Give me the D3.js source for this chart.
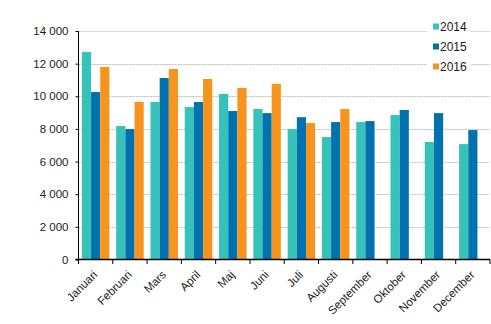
<!DOCTYPE html>
<html>
<head>
<meta charset="utf-8">
<script src="https://cdn.jsdelivr.net/npm/d3@7/dist/d3.min.js"></script>
<style>
html,body{margin:0;padding:0;background:#fff;}
svg{display:block;}
text{font-family:"Liberation Sans", Arial, sans-serif;fill:#1a1a1a;}
</style>
</head>
<body>
<svg id="chart" width="491" height="324"></svg>
<script>
const months = ["Januari","Februari","Mars","April","Maj","Juni","Juli","Augusti","September","Oktober","November","December"];
const seriesNames = ["2014","2015","2016"];
const values2014 = [12720,8180,9650,9340,10140,9220,7990,7500,8420,8850,7200,7070];
const values2015 = [10260,7990,11120,9650,9100,8970,8720,8420,8480,9160,8970,7930];
const values2016 = [11800,9650,11670,11060,10510,10760,8360,9220,null,null,null,null];
const yTicks = [0,2000,4000,6000,8000,10000,12000,14000];
const colors = ["#35C2B8","#0072B0","#F7941D"];

const seriesValues = [values2014, values2015, values2016];
const svg = d3.select("#chart");
const mLeft = 78.5, mRight = 490, mTop = 31, mBottom = 259.5;

const x0 = d3.scaleBand().domain(months).range([mLeft, mRight]).padding(0);
const bw = x0.bandwidth();
const x1 = d3.scaleBand().domain(seriesNames).range([3.4, bw - 3.4]).padding(0);
const y = d3.scaleLinear().domain([0, 14000]).range([mBottom, mTop]);
const fmt = v => d3.format(",")(v).replace(/,/g, "\u00a0");

// gridlines
svg.append("g").selectAll("line").data(yTicks.filter(d => d > 0)).join("line")
  .attr("x1", mLeft).attr("x2", mRight)
  .attr("y1", d => Math.round(y(d)) + 0.5).attr("y2", d => Math.round(y(d)) + 0.5)
  .attr("stroke", d => d === 14000 ? "#d9d9d9" : "#bdbdbd")
  .attr("stroke-width", 1)
  .attr("stroke-dasharray", d => d === 14000 ? null : "2,1");

// bars
const groups = svg.append("g").selectAll("g").data(months).join("g")
  .attr("transform", d => `translate(${x0(d)},0)`);
groups.selectAll("rect")
  .data((m, i) => seriesNames.map((s, k) => ({s, k, v: seriesValues[k][i]})).filter(d => d.v != null))
  .join("rect")
  .attr("x", d => x1(d.s))
  .attr("width", x1.bandwidth())
  .attr("y", d => y(d.v))
  .attr("height", d => y(0) - y(d.v))
  .attr("fill", d => colors[d.k]);

// y axis
const yAxis = svg.append("g").attr("transform", `translate(${mLeft},0)`)
  .call(d3.axisLeft(y).tickValues(yTicks).tickSize(3).tickPadding(7).tickFormat(fmt));
yAxis.select(".domain").attr("stroke", "#000").attr("d", `M0,${mTop}V${mBottom}`);
yAxis.selectAll(".tick line").attr("stroke", "#000");
yAxis.selectAll("text").style("font-size", "11.5px").attr("fill", "#1a1a1a")
  .style("font-family", "'Liberation Sans', Arial, sans-serif");

// x axis
const xg = svg.append("g");
xg.append("line").attr("x1", mLeft - 3).attr("x2", mRight).attr("y1", mBottom).attr("y2", mBottom)
  .attr("stroke", "#000").attr("stroke-width", 1.3);
const bounds = months.map(m => x0(m)).concat([mRight]);
xg.selectAll(".xt").data(bounds).join("line").attr("class", "xt")
  .attr("x1", d => d).attr("x2", d => d).attr("y1", mBottom).attr("y2", mBottom + 4.5)
  .attr("stroke", "#000");
xg.selectAll(".xl").data(months).join("text").attr("class", "xl")
  .attr("transform", d => `translate(${x0(d) + bw / 2 + 2.5},${mBottom + 16}) rotate(-45)`)
  .attr("text-anchor", "end")
  .style("font-size", "11.5px")
  .text(d => d);

// legend
const lg = svg.append("g");
lg.append("rect").attr("x", 427).attr("y", 16).attr("width", 44).attr("height", 60).attr("fill", "#fff");
const li = lg.selectAll(".li").data(seriesNames).join("g").attr("class", "li")
  .attr("transform", (d, i) => `translate(433,${26.5 + i * 20})`);
li.append("rect").attr("x", 0).attr("y", -3).attr("width", 6).attr("height", 6).attr("fill", (d, i) => colors[i]);
li.append("text").attr("x", 7).attr("y", 4.5).style("font-size", "12px").text(d => d);
</script>
</body>
</html>
